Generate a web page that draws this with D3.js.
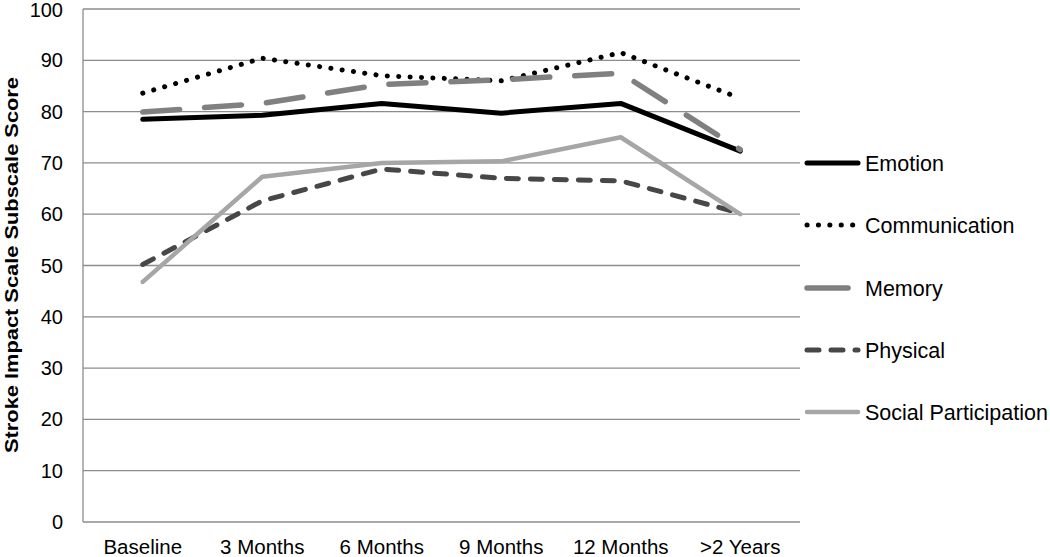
<!DOCTYPE html>
<html>
<head>
<meta charset="utf-8">
<script src="https://cdn.jsdelivr.net/npm/d3@7"></script>
<style>
body{margin:0;background:#fff}
text{font-family:"Liberation Sans",Arial,sans-serif;fill:#000}
</style>
</head>
<body>
<div id="chart"></div>
<script>
const categories=["Baseline","3 Months","6 Months","9 Months","12 Months",">2 Years"]
const emotion=[78.5,79.3,81.6,79.7,81.6,72.3]
const communication=[83.6,90.4,87.0,86.0,91.5,82.6]
const memory=[79.9,81.6,85.3,86.2,87.5,72.6]
const physical=[50.2,62.6,68.8,67.0,66.5,60.2]
const social=[46.8,67.3,70.0,70.3,75.0,60.0]
const yTicks=[0,10,20,30,40,50,60,70,80,90,100]

const series=[
  {name:"Emotion",values:emotion,color:"#000",width:5,dash:null},
  {name:"Communication",values:communication,color:"#000",width:5,dash:"0.1 11.3"},
  {name:"Memory",values:memory,color:"#808080",width:5.5,dash:"37 25"},
  {name:"Physical",values:physical,color:"#474747",width:5,dash:"12 12"},
  {name:"Social Participation",values:social,color:"#a6a6a6",width:4.5,dash:null}
]

const width=1050
const height=557
const mLeft=83, mRight=800, mTop=9, mBottom=522

const svg=d3.select("#chart")
.append("svg")
.attr("width",width)
.attr("height",height)

const x=d3.scalePoint()
.domain(categories)
.range([mLeft,mRight])
.padding(0.5)

const y=d3.scaleLinear()
.domain([0,100])
.range([mBottom,mTop])

// gridlines
svg.append("g")
  .selectAll("line")
  .data(yTicks.filter(d=>d>0))
  .join("line")
  .attr("x1",mLeft)
  .attr("x2",mRight)
  .attr("y1",d=>y(d))
  .attr("y2",d=>y(d))
  .attr("stroke","#8c8c8c")
  .attr("stroke-width",1.3)

// axes
svg.append("line")
  .attr("x1",mLeft).attr("x2",mLeft)
  .attr("y1",mTop).attr("y2",mBottom)
  .attr("stroke","#8c8c8c").attr("stroke-width",1.3)
svg.append("line")
  .attr("x1",mLeft).attr("x2",mRight)
  .attr("y1",mBottom).attr("y2",mBottom)
  .attr("stroke","#8c8c8c").attr("stroke-width",1.3)

// y tick labels
svg.append("g")
  .selectAll("text")
  .data(yTicks)
  .join("text")
  .attr("x",63)
  .attr("y",d=>y(d)+(d===100?8:7))
  .attr("text-anchor","end")
  .style("font-size","20px")
  .text(d=>d)

// x labels
svg.append("g")
  .selectAll("text")
  .data(categories)
  .join("text")
  .attr("x",d=>x(d))
  .attr("y",554)
  .attr("text-anchor","middle")
  .style("font-size","20.5px")
  .text(d=>d)

// lines
const line=d3.line()
  .x((d,i)=>x(categories[i]))
  .y(d=>y(d))

svg.append("g")
  .selectAll("path")
  .data(series)
  .join("path")
  .attr("d",d=>line(d.values))
  .attr("fill","none")
  .attr("stroke",d=>d.color)
  .attr("stroke-width",d=>d.width)
  .attr("stroke-dasharray",d=>d.dash)
  .attr("stroke-linecap","round")
  .attr("stroke-linejoin","round")

// legend
const legendY=[163,225,288,350,412]
const lg=svg.append("g")
  .selectAll("g")
  .data(series)
  .join("g")
  .attr("transform",(d,i)=>`translate(0,${legendY[i]})`)

lg.append("line")
  .attr("x1",807)
  .attr("x2",d=>d.name==="Memory"?848:858)
  .attr("stroke",d=>d.color)
  .attr("stroke-width",d=>d.width)
  .attr("stroke-dasharray",d=>d.name==="Memory"?null:d.dash)
  .attr("stroke-linecap","round")

lg.append("text")
  .attr("x",865)
  .attr("y",8)
  .style("font-size","21.5px")
  .text(d=>d.name)

// y axis label
svg.append("text")
  .attr("transform","rotate(-90)")
  .attr("x",-265)
  .attr("y",18)
  .attr("text-anchor","middle")
  .attr("textLength",376)
  .attr("lengthAdjust","spacingAndGlyphs")
  .style("font-size","19px")
  .style("font-weight","bold")
  .text("Stroke Impact Scale Subscale Score")
</script>
</body>
</html>
